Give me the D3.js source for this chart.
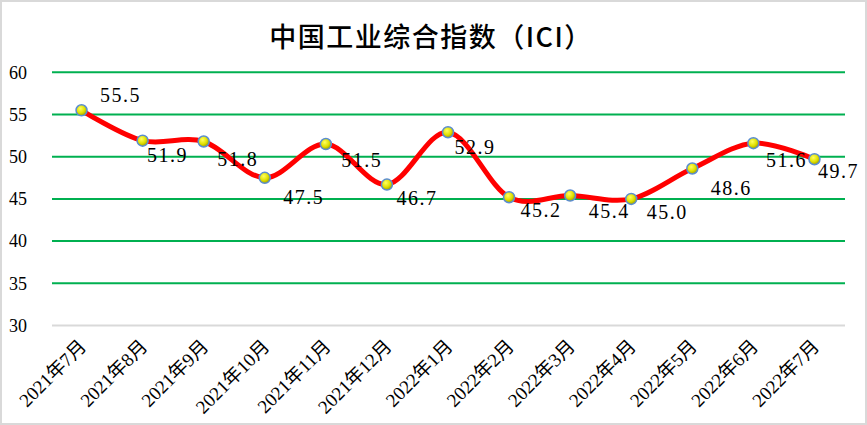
<!DOCTYPE html>
<html>
<head>
<meta charset="utf-8">
<script src="https://cdn.jsdelivr.net/npm/d3@7"></script>
<style>
html,body{margin:0;padding:0;background:#fff;}
svg{display:block;}
</style>
</head>
<body>
<svg id="chart" width="867" height="425"></svg>
<script>
const title = "中国工业综合指数（ICI）";
const categories = ["2021年7月","2021年8月","2021年9月","2021年10月","2021年11月","2021年12月","2022年1月","2022年2月","2022年3月","2022年4月","2022年5月","2022年6月","2022年7月"];
const values = [55.5,51.9,51.8,47.5,51.5,46.7,52.9,45.2,45.4,45.0,48.6,51.6,49.7];
const yTicks = [30,35,40,45,50,55,60];
// label offsets (px) from each point, as placed in the original
const labelDx = [39,25,34,39,36,30,27,32,39,36,39,33,24];
const labelDy = [-15,14,17,19,16,13,15,13,15,13,19,17,12];

const W = 867, H = 425;
const svg = d3.select("#chart");
const plot = {left:51, right:845, top:72.3, bottom:325.5};

svg.append("rect").attr("x",1).attr("y",1).attr("width",W-2).attr("height",H-2)
  .attr("fill","#fff").attr("stroke","#d9d9d9").attr("stroke-width",2);

const x = d3.scaleBand().domain(categories).range([plot.left, plot.right]);
const y = d3.scaleLinear().domain([30,60]).range([plot.bottom, plot.top]);

// title
svg.append("text").attr("x",431).attr("y",47).attr("text-anchor","middle")
  .attr("font-family","'Noto Sans CJK SC', sans-serif").attr("font-size",27).attr("font-weight",500)
  .attr("letter-spacing",1.5)
  .attr("fill","#000").text(title);

// gridlines
svg.append("g").selectAll("line").data(yTicks).join("line")
  .attr("x1",plot.left+1).attr("x2",plot.right)
  .attr("y1",d=>y(d)).attr("y2",d=>y(d))
  .attr("stroke",d=>d===30?"#d9d9d9":"#00b050").attr("stroke-width",2);

// y axis labels
const yAxis = d3.axisLeft(y).tickValues(yTicks).tickSize(0).tickPadding(0).tickFormat(d3.format("d"));
const gy = svg.append("g").attr("transform","translate(27,0)").call(yAxis);
gy.select(".domain").remove();
gy.selectAll(".tick text").attr("fill","#000")
  .style("font-family","'Liberation Serif', serif").style("font-size","18px");

// x axis labels
const xAxis = d3.axisBottom(x).tickSize(0).tickPadding(0);
const gx = svg.append("g").attr("transform",`translate(0,${plot.bottom})`).call(xAxis);
gx.select(".domain").remove();
gx.selectAll(".tick text")
  .attr("fill","#000")
  .style("font-family","'Liberation Serif', 'Noto Sans CJK SC', serif").style("font-size","19px")
  .attr("text-anchor","end").attr("dy",0).attr("y",0)
  .attr("transform","translate(6,22) rotate(-45)");

// line
const cx = (d,i)=>x(categories[i])+x.bandwidth()/2;
const line = d3.line().x((d,i)=>cx(d,i)).y(d=>y(d)).curve(d3.curveCardinal.tension(0));
svg.append("path").datum(values).attr("d",line).attr("fill","none")
  .attr("stroke","#ff0000").attr("stroke-width",5).attr("stroke-linejoin","round").attr("stroke-linecap","round");

// marker gradient
const defs = svg.append("defs");
const grad = defs.append("radialGradient").attr("id","mk").attr("cx","40%").attr("cy","35%").attr("r","65%");
grad.append("stop").attr("offset","0%").attr("stop-color","#ffff60");
grad.append("stop").attr("offset","60%").attr("stop-color","#e0e000");
grad.append("stop").attr("offset","100%").attr("stop-color","#a0a000");

svg.append("g").selectAll("circle").data(values).join("circle")
  .attr("cx",(d,i)=>cx(d,i)).attr("cy",d=>y(d)).attr("r",5.5)
  .attr("fill","url(#mk)").attr("stroke","#5b8dd0").attr("stroke-width",1.5);

// data labels
svg.append("g").selectAll("text").data(values).join("text")
  .attr("x",(d,i)=>cx(d,i)+labelDx[i]).attr("y",(d,i)=>y(d)+labelDy[i])
  .attr("text-anchor","middle").attr("dominant-baseline","central")
  .attr("font-family","'Liberation Serif', serif").attr("font-size",20).attr("letter-spacing",1.5)
  .attr("fill","#000").text(d=>d.toFixed(1));
</script>
</body>
</html>
